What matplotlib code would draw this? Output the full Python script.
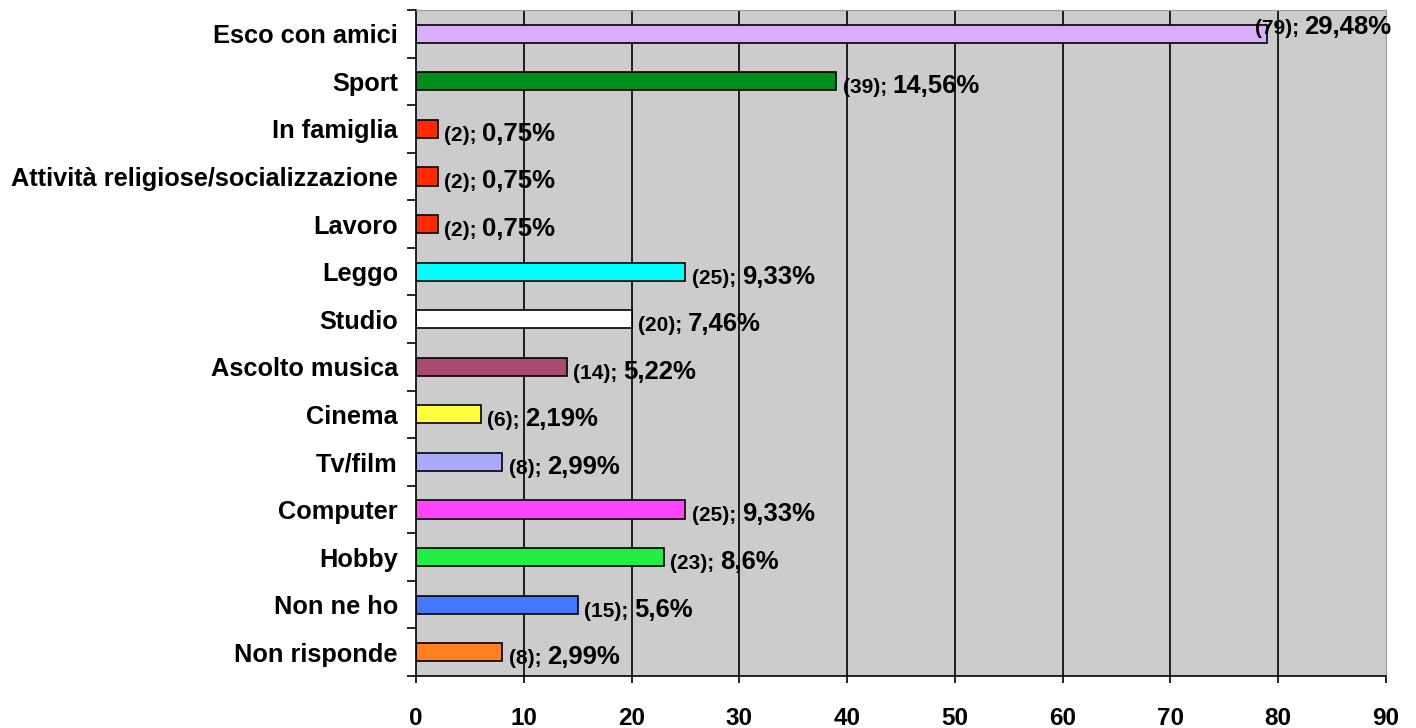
import matplotlib
matplotlib.use('Agg')
import matplotlib.pyplot as plt

# dati (dall'alto verso il basso)
categorie = ['Esco con amici', 'Sport', 'In famiglia', 'Attività religiose/socializzazione',
             'Lavoro', 'Leggo', 'Studio', 'Ascolto musica', 'Cinema', 'Tv/film',
             'Computer', 'Hobby', 'Non ne ho', 'Non risponde']
valori = [79, 39, 2, 2, 2, 25, 20, 14, 6, 8, 25, 23, 15, 8]
percentuali = ['29,48%', '14,56%', '0,75%', '0,75%', '0,75%', '9,33%', '7,46%',
               '5,22%', '2,19%', '2,99%', '9,33%', '8,6%', '5,6%', '2,99%']
colori = ['#D9ADFF', '#008C1A', '#FF2A00', '#FF2A00', '#FF2A00', '#00FFFF', '#FFFFFF',
          '#AA4A72', '#FFFF40', '#AAAAFF', '#FF44FF', '#22EE44', '#4477FF', '#FF8020']

plt.rcParams['font.family'] = ['Liberation Sans', 'DejaVu Sans']
plt.rcParams['font.weight'] = 'bold'

fig = plt.figure(figsize=(14.16, 7.28), dpi=100)
ax = fig.add_axes([416 / 1416, 52 / 728, 970 / 1416, 666 / 728])

n = len(categorie)
pos = list(range(n))[::-1]

ax.set_facecolor('#CCCCCC')
ax.set_xlim(0, 90)
ax.set_ylim(-0.5, n - 0.5)
ax.set_xticks(range(0, 100, 10))
for x in range(10, 90, 10):
    ax.axvline(x, color='black', lw=1.2, zorder=1)

ax.barh(pos, valori, height=0.38, color=colori, edgecolor='black', lw=1.2, zorder=2)

ax.set_yticks(pos)
ax.set_yticklabels(categorie, fontsize=18.3, fontweight='bold')
ax.set_yticks([i + 0.5 for i in range(-1, n)], minor=True)
ax.tick_params(axis='y', which='major', length=0, pad=13)
ax.tick_params(axis='y', which='minor', length=6.5, width=1.2, direction='out')
ax.tick_params(axis='x', length=5, width=1.2, direction='out', labelsize=17.5, pad=17)
for lbl in ax.get_xticklabels():
    lbl.set_fontweight('bold')

ax.spines['left'].set_linewidth(1.2)
ax.spines['bottom'].set_linewidth(1.2)
ax.spines['top'].set_color('#999999')
ax.spines['right'].set_color('#999999')

# etichette dei valori: "(n); " piccolo + percentuale grande, stessa linea di base
piccoli = []
for y, v in zip(pos, valori):
    if v > 70:
        x0, yb = 77.8, y
    else:
        x0, yb = v + 0.6, y - 0.25
    t = ax.text(x0, yb, '(%d); ' % v, ha='left', va='baseline',
                fontsize=15, fontweight='bold', zorder=3)
    piccoli.append((t, yb))

fig.canvas.draw()
renderer = fig.canvas.get_renderer()
for (t, yb), p in zip(piccoli, percentuali):
    bb = t.get_window_extent(renderer)
    x1 = ax.transData.inverted().transform((bb.x1, 0))[0]
    ax.text(x1, yb, p, ha='left', va='baseline', fontsize=18.5,
            fontweight='bold', zorder=3)

fig.savefig('out.png', dpi=100)
